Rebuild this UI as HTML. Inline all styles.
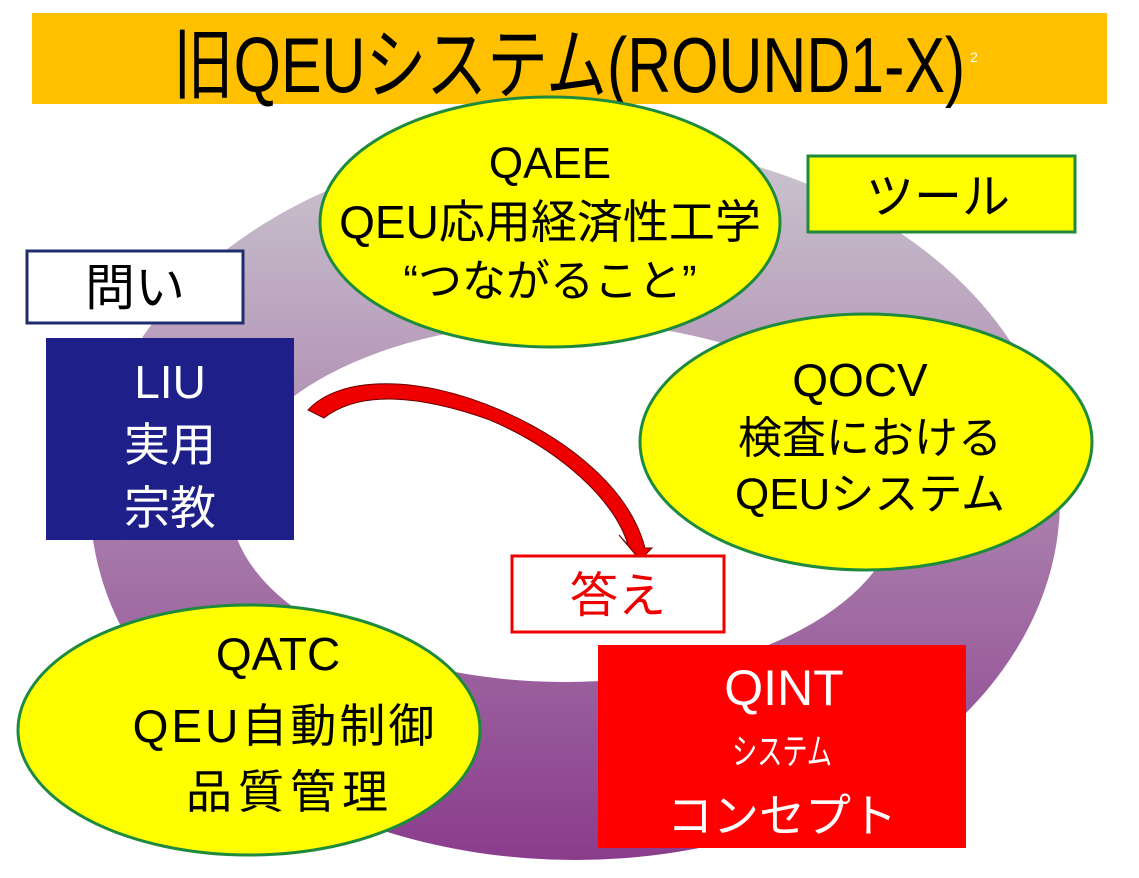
<!DOCTYPE html>
<html><head><meta charset="utf-8"><style>
body{margin:0;background:#fff;}
svg text{font-family:"Liberation Sans","Noto Sans CJK JP",sans-serif;}
</style></head><body>
<svg width="1139" height="873" xmlns="http://www.w3.org/2000/svg">
<defs>
<linearGradient id="g" x1="0" y1="0" x2="0" y2="1">
<stop offset="0" stop-color="#cbc6cf"/><stop offset="1" stop-color="#8a3c8c"/>
</linearGradient>
</defs>
<rect width="1139" height="873" fill="#fff"/>
<rect x="32" y="13" width="1075" height="91" fill="#ffc000"/>
<text x="569" y="92" font-size="78" text-anchor="middle" transform="translate(569 0) scale(0.78 1) translate(-569 0)">旧QEUシステム(ROUND1-X)</text>
<text x="970" y="62" font-size="14" fill="#fff">2</text>
<ellipse cx="575" cy="500" rx="485" ry="360" fill="url(#g)"/>
<ellipse cx="565" cy="502" rx="335" ry="180" fill="#fff"/>
<ellipse cx="550" cy="222" rx="230" ry="125" fill="#ffff00" stroke="#1e8a3e" stroke-width="3"/>
<text x="550" y="178" font-size="44" text-anchor="middle">QAEE</text>
<text x="550" y="238" font-size="46" text-anchor="middle">QEU応用経済性工学</text>
<text x="550" y="296" font-size="44" text-anchor="middle">“つながること”</text>
<rect x="808" y="156" width="267" height="76" fill="#ffff00" stroke="#1e8a3e" stroke-width="3"/>
<text x="938" y="213" font-size="48" text-anchor="middle">ツール</text>
<rect x="27" y="251" width="216" height="72" fill="#fff" stroke="#1f2d6e" stroke-width="3"/>
<text x="135" y="305" font-size="50" text-anchor="middle">問い</text>
<rect x="46" y="338" width="248" height="202" fill="#1f1f8a"/>
<text x="170" y="398" font-size="46" fill="#fff" text-anchor="middle">LIU</text>
<text x="170" y="461" font-size="46" fill="#fff" text-anchor="middle">実用</text>
<text x="170" y="524" font-size="46" fill="#fff" text-anchor="middle">宗教</text>
<ellipse cx="866" cy="442" rx="226" ry="128" fill="#ffff00" stroke="#1e8a3e" stroke-width="3"/>
<text x="860" y="396" font-size="46" text-anchor="middle">QOCV</text>
<text x="870" y="453" font-size="44" text-anchor="middle">検査における</text>
<text x="870" y="509" font-size="44" text-anchor="middle">QEUシステム</text>
<path d="M308 410 C340 375 420 375 500 410 C570 440 630 490 645 548 L652 548 L640 560 L619 535 L628 545 C615 500 560 450 490 420 C420 395 360 390 324 418 Z" fill="#e00" stroke="#600" stroke-width="1"/>
<rect x="512" y="556" width="212" height="76" fill="#fff" stroke="#e00" stroke-width="3"/>
<text x="618" y="612" font-size="48" fill="#e00" text-anchor="middle">答え</text>
<ellipse cx="249" cy="730" rx="231" ry="125" fill="#ffff00" stroke="#1e8a3e" stroke-width="3"/>
<text x="278" y="670" font-size="46" text-anchor="middle">QATC</text>
<text x="285" y="742" font-size="46" text-anchor="middle" letter-spacing="3">QEU自動制御</text>
<text x="290" y="808" font-size="46" text-anchor="middle" letter-spacing="6">品質管理</text>
<rect x="598" y="645" width="368" height="203" fill="#ff0000"/>
<text x="784" y="705" font-size="50" fill="#fff" text-anchor="middle">QINT</text>
<text x="782" y="764" font-size="36" fill="#fff" text-anchor="middle" transform="translate(782 0) scale(0.7 1) translate(-782 0)">システム</text>
<text x="782" y="832" font-size="46" fill="#fff" text-anchor="middle">コンセプト</text>
</svg>
</body></html>
